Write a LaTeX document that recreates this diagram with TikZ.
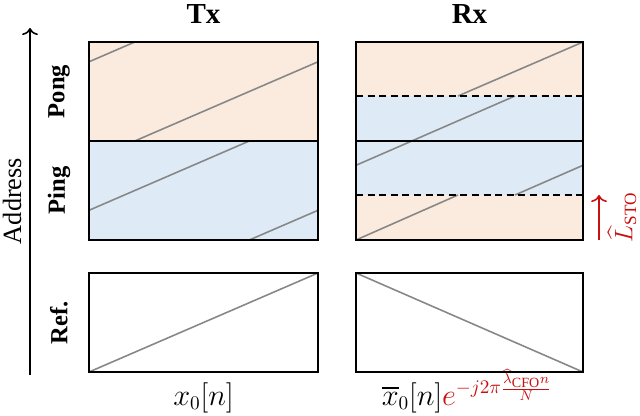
\documentclass[tikz,border=0pt]{standalone}
\usepackage{amsmath, amssymb}
\usepackage{fontspec}
\setmainfont{Liberation Serif}
\usepackage{tikz}
\usetikzlibrary{arrows.meta, positioning}

\definecolor{pongfill}{RGB}{251,235,222}
\definecolor{pingfill}{RGB}{222,235,246}
\definecolor{chirpgray}{RGB}{135,135,135}
\definecolor{estred}{RGB}{200,16,16}

\begin{document}
\begin{tikzpicture}[
    x=0.02cm, y=-0.02cm,
    every node/.style={font=\fontsize{14}{17}\selectfont, inner sep=1pt},
    >={Computer Modern Rightarrow[length=4pt, width=9pt]},
    frame/.style={draw=black, line width=1.1pt},
    divider/.style={draw=black, line width=1.1pt, dash pattern=on 4pt off 2.6pt},
    chirp/.style={draw=chirpgray, line width=0.9pt},
    axisarrow/.style={->, line width=0.9pt},
    rowlabel/.style={rotate=90, font=\fontsize{14}{17}\selectfont\bfseries},
    headlabel/.style={anchor=base, font=\fontsize{16.5}{19}\selectfont\bfseries},
    siglabel/.style={anchor=base, font=\fontsize{16}{19}\selectfont}
]
\useasboundingbox (0,0) rectangle (640,416);

% Corners
\coordinate (txNW) at (89,42);
\coordinate (txSE) at (318,240);
\coordinate (rxNW) at (356,42);
\coordinate (rxSE) at (583,240);
\coordinate (txRefNW) at (89,273);
\coordinate (txRefSE) at (318,372);
\coordinate (rxRefNW) at (356,273);
\coordinate (rxRefSE) at (583,372);

% Buffer halves
\fill [pongfill] (txNW) rectangle (318,141);
\fill [pingfill] (89,141) rectangle (txSE);
\fill [pongfill] (rxNW) rectangle (583,96);
\fill [pingfill] (356,96) rectangle (583,195);
\fill [pongfill] (356,195) rectangle (rxSE);

% Chirps
\draw [chirp] (89,61.8) -- (134.8,42);
\draw [chirp] (134.8,141) -- (318,61.8);
\draw [chirp] (89,210.3) -- (249.3,141);
\draw [chirp] (249.3,240) -- (318,210.3);
\draw [chirp] (356,240) -- (458,195);
\draw [chirp] (458,96) -- (583,42);
\draw [chirp] (356,165.3) -- (515,96);
\draw [chirp] (515,195) -- (583,165.3);
\draw [chirp] (txRefNW |- txRefSE) -- (txRefSE |- txRefNW);
\draw [chirp] (rxRefNW) -- (rxRefSE);

% Frames
\draw [frame] (txNW) rectangle (txSE);
\draw [frame] (89,141) -- (318,141);
\draw [frame] (rxNW) rectangle (rxSE);
\draw [frame] (356,141) -- (583,141);
\draw [divider] (356,96) -- (583,96);
\draw [divider] (356,195) -- (583,195);
\draw [frame] (txRefNW) rectangle (txRefSE);
\draw [frame] (rxRefNW) rectangle (rxRefSE);

% Nodes
\node (txTitle) [headlabel] at (203.5,23) {Tx};
\node (rxTitle) [headlabel] at (469.5,23) {Rx};
\node (pong) [rowlabel] at (59,91.5) {Pong};
\node (ping) [rowlabel] at (59,190.5) {Ping};
\node (ref) [rowlabel] at (59,322.5) {Ref.};
\coordinate (addrLow) at (30,375);
\coordinate (addrHigh) at (30,28);
\node (address) [rotate=90, font=\fontsize{15}{18}\selectfont] at (12,201) {Address};
\node (txSig) [siglabel] at (203.5,405) {$x_0[n]$};
\node (rxSig) [siglabel] at (467,405)
    {$\overline{x}_0[n]\textcolor{estred}{e^{-j2\pi\frac{\widehat{\lambda}_{\mathrm{CFO}}n}{N}}}$};
\coordinate (stoLow) at (599,240);
\coordinate (stoHigh) at (599,195);
\node (sto) [rotate=90, text=estred] at (622,217) {$\widehat{L}_{\mathrm{STO}}$};

% Arrows
\draw [axisarrow] (addrLow) -- (addrHigh);
\draw [axisarrow, estred] (stoLow) -- (stoHigh);
\end{tikzpicture}
\end{document}
